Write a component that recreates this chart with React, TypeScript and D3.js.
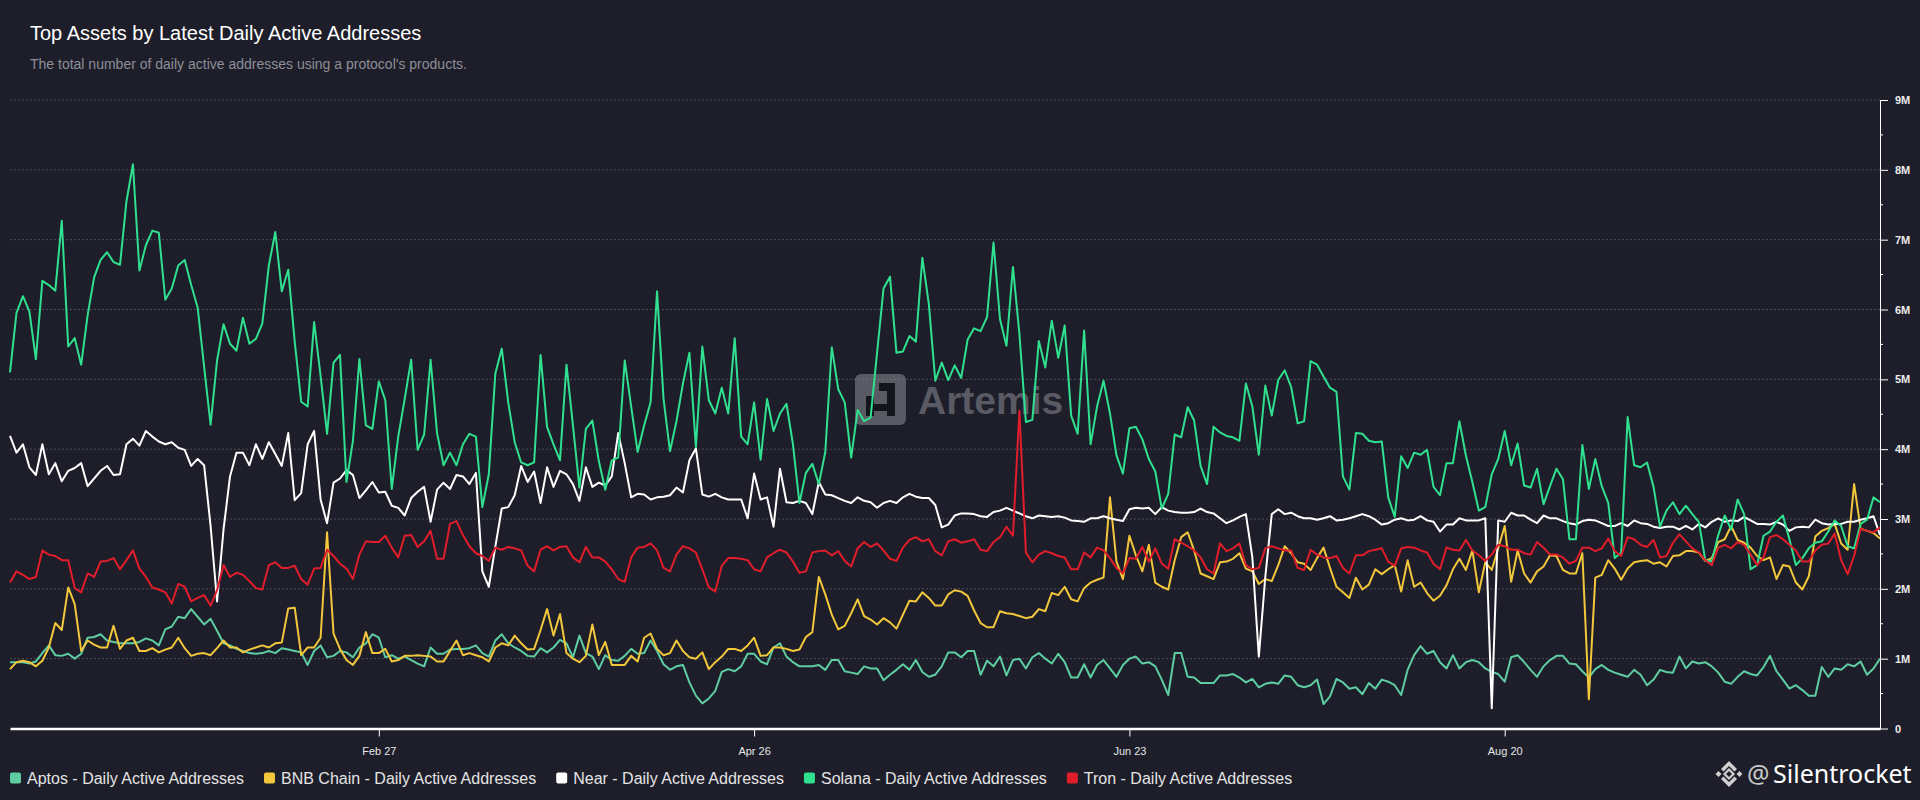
import { useEffect, useRef } from "react";
import * as d3 from "d3";

const WIDTH = 1920;
const HEIGHT = 800;
const PLOT = { left: 10, right: 1880, top: 100, bottom: 728.5 };

const TITLE = "Top Assets by Latest Daily Active Addresses";
const SUBTITLE = "The total number of daily active addresses using a protocol's products.";

// first day of the series, one value per day after it
const START_DATE = "2023-01-01";
const X_TICKS = ["2023-02-27", "2023-04-26", "2023-06-23", "2023-08-20"];
const Y_TICKS = [0, 1, 2, 3, 4, 5, 6, 7, 8, 9];
const Y_MINOR = [0.5, 1.5, 2.5, 3.5, 4.5, 5.5, 6.5, 7.5, 8.5];

// daily active addresses, millions
const aptos = [
  0.95, 0.95, 0.95, 0.93, 0.96, 1.08, 1.19, 1.05, 1.04, 1.07,
  1.0, 1.07, 1.3, 1.31, 1.35, 1.26, 1.24, 1.22, 1.22, 1.22,
  1.24, 1.29, 1.26, 1.19, 1.42, 1.46, 1.6, 1.58, 1.71, 1.6,
  1.49, 1.57, 1.4, 1.22, 1.19, 1.14, 1.11, 1.08, 1.07, 1.08,
  1.11, 1.08, 1.15, 1.13, 1.11, 1.09, 0.91, 1.11, 1.19, 1.02,
  1.04, 1.11, 1.09, 1.02, 1.16, 1.22, 1.35, 1.3, 1.02, 1.05,
  1.0, 1.03, 0.98, 0.93, 0.89, 1.16, 1.07, 1.07, 1.13, 1.14,
  1.14, 1.15, 1.19, 1.08, 1.03, 1.26, 1.35, 1.22, 1.16, 1.11,
  1.04, 1.03, 1.15, 1.09, 1.16, 1.27, 1.22, 1.02, 1.33, 1.08,
  1.03, 0.85, 1.05, 0.98, 0.97, 1.04, 1.14, 1.07, 1.08, 1.26,
  1.11, 0.92, 0.84, 0.89, 0.91, 0.66, 0.47, 0.36, 0.43, 0.54,
  0.81, 0.85, 0.82, 0.89, 1.07, 1.07, 0.96, 0.92, 1.16, 1.22,
  1.03, 0.95, 0.89, 0.89, 0.89, 0.91, 0.84, 0.98, 0.98, 0.82,
  0.8, 0.78, 0.89, 0.86, 0.86, 0.69, 0.77, 0.84, 0.92, 0.84,
  0.98, 0.81, 0.74, 0.77, 0.89, 1.09, 1.09, 1.02, 1.11, 1.11,
  0.77, 0.97, 0.89, 1.03, 0.76, 0.98, 1.0, 0.86, 1.02, 1.08,
  1.0, 0.93, 1.07, 0.95, 0.73, 0.73, 0.92, 0.73, 0.91, 0.98,
  0.86, 0.74, 0.91, 1.0, 1.03, 0.93, 0.95, 0.89, 0.7, 0.48,
  1.08, 1.08, 0.74, 0.73, 0.65, 0.65, 0.65, 0.76, 0.76, 0.78,
  0.73, 0.66, 0.71, 0.59, 0.64, 0.66, 0.64, 0.76, 0.74, 0.62,
  0.59, 0.62, 0.7, 0.35, 0.46, 0.71, 0.66, 0.57, 0.59, 0.49,
  0.65, 0.57, 0.7, 0.67, 0.62, 0.48, 0.84, 1.05, 1.18, 1.07,
  1.11, 0.95, 0.86, 1.05, 0.86, 0.95, 0.98, 0.95, 0.86, 0.81,
  0.78, 0.67, 1.02, 1.05, 0.95, 0.84, 0.74, 0.89, 0.98, 1.04,
  1.04, 0.93, 0.92, 0.82, 0.73, 0.85, 0.91, 0.84, 0.8, 0.77,
  0.74, 0.84, 0.77, 0.62, 0.7, 0.84, 0.81, 0.8, 1.03, 0.86,
  0.96, 0.93, 0.95, 0.89, 0.8, 0.67, 0.64, 0.74, 0.82, 0.78,
  0.76, 0.88, 1.04, 0.82, 0.7, 0.57, 0.62, 0.55, 0.47, 0.47,
  0.88, 0.74, 0.86, 0.84, 0.92, 0.89, 0.96, 0.77, 0.86, 1.0,
];

const bnbChain = [
  0.85, 0.95, 0.97, 0.95, 0.89, 0.97, 1.16, 1.51, 1.41, 2.02,
  1.78, 1.11, 1.26, 1.2, 1.16, 1.16, 1.47, 1.14, 1.26, 1.3,
  1.11, 1.11, 1.15, 1.09, 1.13, 1.16, 1.3, 1.15, 1.04, 1.07,
  1.08, 1.05, 1.15, 1.26, 1.16, 1.16, 1.09, 1.13, 1.16, 1.19,
  1.16, 1.22, 1.23, 1.72, 1.73, 1.05, 1.16, 1.16, 1.3, 2.81,
  1.36, 1.14, 0.98, 0.91, 1.04, 1.38, 1.08, 1.08, 1.14, 0.96,
  0.98, 1.04, 1.04, 1.05, 1.04, 1.03, 0.96, 0.96, 1.11, 1.26,
  1.05, 1.08, 1.05, 1.02, 0.96, 1.16, 1.22, 1.19, 1.33, 1.22,
  1.13, 1.14, 1.41, 1.71, 1.33, 1.64, 1.08, 1.0, 0.95, 1.04,
  1.49, 1.05, 1.24, 0.91, 0.91, 0.91, 1.04, 0.96, 1.3, 1.36,
  1.14, 1.05, 1.08, 1.26, 1.11, 1.02, 1.0, 1.09, 0.85, 0.95,
  1.03, 1.14, 1.14, 1.11, 1.19, 1.3, 1.04, 1.05, 1.16, 1.16,
  1.14, 1.11, 1.13, 1.31, 1.38, 2.17, 1.92, 1.63, 1.42, 1.47,
  1.65, 1.85, 1.61, 1.56, 1.49, 1.58, 1.52, 1.43, 1.63, 1.83,
  1.82, 1.95, 1.87, 1.76, 1.76, 1.92, 1.98, 1.96, 1.9, 1.69,
  1.51, 1.45, 1.45, 1.68, 1.65, 1.64, 1.61, 1.58, 1.6, 1.71,
  1.68, 1.94, 1.91, 2.03, 1.85, 1.82, 2.01, 2.09, 2.13, 2.16,
  3.31, 2.39, 2.14, 2.76, 2.48, 2.25, 2.63, 2.09, 2.03, 1.99,
  2.41, 2.74, 2.81, 2.55, 2.22, 2.18, 2.14, 2.38, 2.39, 2.43,
  2.51, 2.29, 2.25, 2.07, 2.14, 2.11, 2.34, 2.61, 2.51, 2.38,
  2.36, 2.27, 2.44, 2.59, 2.3, 2.03, 1.95, 1.87, 2.16, 1.99,
  2.06, 2.28, 2.21, 2.28, 2.34, 1.96, 2.41, 2.03, 2.09, 1.94,
  1.83, 1.9, 2.05, 2.28, 2.43, 2.27, 2.55, 1.95, 2.38, 2.27,
  2.58, 2.9, 2.1, 2.55, 2.22, 2.09, 2.25, 2.32, 2.48, 2.47,
  2.27, 2.22, 2.22, 2.51, 0.42, 2.16, 2.2, 2.41, 2.29, 2.13,
  2.29, 2.38, 2.4, 2.41, 2.36, 2.38, 2.32, 2.47, 2.48, 2.54,
  2.54, 2.52, 2.4, 2.44, 2.67, 2.71, 2.9, 2.7, 2.66, 2.59,
  2.47, 2.41, 2.45, 2.14, 2.34, 2.32, 2.09, 1.99, 2.18, 2.75,
  2.83, 2.87, 2.93, 2.65, 2.56, 3.5, 2.86, 2.83, 2.8, 2.72,
];

const near = [
  4.19, 3.95, 4.07, 3.74, 3.63, 4.07, 3.64, 3.8, 3.54, 3.69,
  3.73, 3.8, 3.47, 3.58, 3.69, 3.76, 3.63, 3.64, 4.07, 4.15,
  4.05, 4.26, 4.18, 4.11, 4.07, 4.1, 4.02, 3.99, 3.76, 3.86,
  3.77, 2.9, 1.82, 2.85, 3.61, 3.95, 3.95, 3.77, 4.07, 3.86,
  4.1, 3.93, 3.76, 4.23, 3.27, 3.37, 4.07, 4.26, 3.28, 2.94,
  3.52, 3.58, 3.7, 3.63, 3.3, 3.41, 3.53, 3.38, 3.39, 3.19,
  3.16, 3.05, 3.3, 3.39, 3.46, 2.96, 3.42, 3.52, 3.43, 3.63,
  3.61, 3.5, 3.66, 2.25, 2.03, 2.6, 3.15, 3.17, 3.34, 3.76,
  3.53, 3.68, 3.23, 3.74, 3.46, 3.69, 3.64, 3.5, 3.26, 3.74,
  3.46, 3.52, 3.48, 3.61, 4.23, 3.8, 3.31, 3.36, 3.35, 3.28,
  3.31, 3.32, 3.34, 3.45, 3.38, 3.84, 4.01, 3.35, 3.32, 3.36,
  3.31, 3.28, 3.28, 3.28, 3.01, 3.65, 3.28, 3.31, 2.89, 3.72,
  3.24, 3.23, 3.26, 3.23, 3.07, 3.53, 3.35, 3.34, 3.3, 3.26,
  3.23, 3.31, 3.26, 3.24, 3.16, 3.23, 3.26, 3.23, 3.31, 3.36,
  3.32, 3.3, 3.3, 3.2, 2.88, 2.92, 3.05, 3.08, 3.08, 3.07,
  3.04, 3.03, 3.1, 3.12, 3.16, 3.12, 3.08, 3.04, 3.01, 3.05,
  3.04, 3.03, 3.04, 3.02, 2.98, 2.97, 2.96, 3.01, 3.01, 3.04,
  3.01, 2.99, 2.97, 3.14, 3.16, 3.15, 3.16, 3.07, 3.17, 3.12,
  3.1, 3.09, 3.09, 3.1, 3.15, 3.1, 3.08, 3.01, 2.94, 2.98,
  3.03, 3.07, 2.45, 1.03, 2.17, 3.07, 3.14, 3.07, 3.09, 3.04,
  3.01, 3.01, 2.99, 3.01, 3.04, 2.98, 2.99, 3.01, 3.04, 3.07,
  3.04, 2.99, 2.92, 2.94, 2.99, 3.01, 2.98, 2.99, 3.04, 2.98,
  2.96, 2.82, 2.92, 2.92, 3.01, 2.98, 2.98, 2.98, 3.01, 0.29,
  2.98, 2.96, 3.09, 3.05, 3.05, 2.99, 2.94, 3.05, 3.01, 3.01,
  2.97, 2.94, 2.92, 2.97, 2.99, 2.98, 2.94, 2.9, 2.9, 2.94,
  2.9, 2.98, 2.94, 2.93, 2.89, 2.87, 2.89, 2.89, 2.85, 2.9,
  2.85, 2.93, 2.88, 2.96, 3.01, 2.96, 2.98, 2.97, 3.03, 2.98,
  2.93, 2.93, 2.92, 2.96, 2.92, 2.83, 2.88, 2.89, 2.88, 2.99,
  2.94, 2.92, 2.93, 2.93, 2.96, 2.96, 2.99, 3.01, 3.04, 2.77,
];

const solana = [
  5.1, 5.95, 6.19, 5.97, 5.29, 6.41, 6.35, 6.27, 7.27, 5.47,
  5.59, 5.21, 5.92, 6.46, 6.71, 6.82, 6.68, 6.64, 7.55, 8.08,
  6.56, 6.92, 7.13, 7.1, 6.14, 6.3, 6.63, 6.71, 6.35, 6.03,
  5.18, 4.35, 5.27, 5.79, 5.51, 5.41, 5.88, 5.51, 5.58, 5.8,
  6.63, 7.11, 6.26, 6.57, 5.54, 4.68, 4.61, 5.82, 5.05, 4.22,
  5.24, 5.35, 3.53, 4.12, 5.29, 4.34, 4.29, 4.97, 4.7, 3.43,
  4.18, 4.72, 5.28, 3.99, 4.21, 5.28, 4.23, 3.77, 3.95, 3.77,
  4.07, 4.22, 4.18, 3.17, 3.64, 5.08, 5.44, 4.67, 4.1, 3.81,
  3.77, 3.81, 5.35, 4.32, 4.07, 3.84, 5.21, 4.34, 3.45, 4.29,
  4.41, 3.83, 3.42, 3.84, 3.88, 5.27, 4.61, 3.96, 4.34, 4.67,
  6.26, 4.72, 3.97, 4.4, 4.94, 5.38, 4.03, 5.47, 4.7, 4.51,
  4.88, 4.51, 5.59, 4.18, 4.07, 4.67, 3.85, 4.72, 4.26, 4.51,
  4.65, 4.07, 3.23, 3.66, 3.79, 3.5, 3.96, 5.46, 4.86, 4.67,
  3.88, 4.56, 4.4, 4.45, 5.38, 6.3, 6.47, 5.38, 5.4, 5.62,
  5.54, 6.74, 6.08, 4.98, 5.24, 4.99, 5.2, 5.02, 5.57, 5.73,
  5.69, 5.89, 6.96, 5.86, 5.48, 6.61, 5.65, 4.39, 4.42, 5.55,
  5.17, 5.84, 5.31, 5.77, 4.48, 4.22, 5.7, 4.07, 4.61, 4.98,
  4.51, 3.91, 3.65, 4.3, 4.32, 4.14, 3.86, 3.68, 3.15, 3.36,
  4.21, 4.17, 4.6, 4.41, 3.76, 3.5, 4.32, 4.24, 4.19, 4.17,
  4.12, 4.94, 4.61, 3.92, 4.91, 4.48, 4.99, 5.13, 4.89, 4.37,
  4.4, 5.26, 5.21, 5.04, 4.88, 4.82, 3.61, 3.42, 4.23, 4.22,
  4.12, 4.1, 4.11, 3.31, 3.03, 3.9, 3.73, 3.95, 3.92, 3.99,
  3.46, 3.34, 3.8, 3.8, 4.4, 3.91, 3.53, 3.12, 3.17, 3.64,
  3.86, 4.26, 3.77, 4.08, 3.48, 3.45, 3.72, 3.21, 3.47, 3.72,
  3.57, 2.71, 2.71, 4.06, 3.43, 3.86, 3.47, 3.23, 2.44, 2.52,
  4.46, 3.77, 3.74, 3.81, 3.46, 2.89, 3.12, 3.24, 3.07, 3.19,
  3.07, 2.96, 2.41, 2.39, 2.77, 3.05, 2.85, 3.28, 3.07, 2.28,
  2.34, 2.76, 2.82, 2.96, 3.05, 2.71, 2.34, 2.44, 2.58, 2.66,
  2.68, 2.82, 2.98, 2.9, 2.61, 2.58, 2.93, 2.99, 3.31, 3.24,
];

const tron = [
  2.09, 2.25, 2.2, 2.14, 2.17, 2.55, 2.49, 2.47, 2.41, 2.41,
  2.01, 1.95, 2.22, 2.17, 2.39, 2.4, 2.44, 2.28, 2.41, 2.55,
  2.29, 2.17, 2.02, 1.99, 1.95, 1.79, 2.07, 2.03, 1.82, 1.87,
  1.91, 1.76, 1.98, 2.34, 2.17, 2.23, 2.2, 2.11, 2.01, 1.99,
  2.34, 2.38, 2.3, 2.3, 2.33, 2.14, 2.06, 2.29, 2.3, 2.56,
  2.47, 2.36, 2.29, 2.14, 2.49, 2.68, 2.67, 2.67, 2.76, 2.59,
  2.45, 2.76, 2.77, 2.6, 2.68, 2.83, 2.43, 2.43, 2.93, 2.97,
  2.77, 2.61, 2.51, 2.47, 2.4, 2.59, 2.56, 2.6, 2.58, 2.55,
  2.33, 2.25, 2.56, 2.61, 2.55, 2.6, 2.61, 2.45, 2.38, 2.6,
  2.45, 2.45, 2.39, 2.28, 2.14, 2.1, 2.45, 2.59, 2.6, 2.65,
  2.55, 2.3, 2.25, 2.49, 2.61, 2.58, 2.52, 2.28, 2.02, 1.96,
  2.33, 2.44, 2.44, 2.43, 2.41, 2.28, 2.25, 2.45, 2.51, 2.56,
  2.52, 2.39, 2.23, 2.25, 2.52, 2.54, 2.55, 2.48, 2.54, 2.4,
  2.32, 2.58, 2.67, 2.6, 2.65, 2.55, 2.43, 2.4, 2.59, 2.7,
  2.74, 2.68, 2.71, 2.54, 2.48, 2.68, 2.71, 2.66, 2.68, 2.71,
  2.56, 2.54, 2.67, 2.74, 2.89, 2.76, 4.55, 2.52, 2.38, 2.49,
  2.54, 2.51, 2.47, 2.45, 2.28, 2.28, 2.52, 2.45, 2.59, 2.55,
  2.44, 2.3, 2.22, 2.44, 2.43, 2.6, 2.39, 2.58, 2.36, 2.29,
  2.71, 2.66, 2.61, 2.55, 2.45, 2.28, 2.22, 2.65, 2.54, 2.58,
  2.65, 2.34, 2.28, 2.3, 2.58, 2.61, 2.58, 2.55, 2.55, 2.3,
  2.27, 2.56, 2.49, 2.45, 2.44, 2.47, 2.3, 2.22, 2.48, 2.48,
  2.54, 2.56, 2.58, 2.39, 2.33, 2.58, 2.6, 2.59, 2.55, 2.52,
  2.36, 2.28, 2.59, 2.56, 2.55, 2.7, 2.55, 2.48, 2.4, 2.49,
  2.63, 2.61, 2.56, 2.56, 2.51, 2.49, 2.67, 2.59, 2.49, 2.49,
  2.45, 2.36, 2.4, 2.59, 2.59, 2.54, 2.58, 2.72, 2.54, 2.47,
  2.74, 2.71, 2.63, 2.6, 2.7, 2.45, 2.47, 2.66, 2.78, 2.68,
  2.58, 2.52, 2.41, 2.34, 2.59, 2.63, 2.58, 2.67, 2.63, 2.49,
  2.34, 2.45, 2.74, 2.77, 2.71, 2.63, 2.55, 2.39, 2.39, 2.55,
  2.63, 2.65, 2.79, 2.41, 2.21, 2.47, 2.86, 2.83, 2.81, 2.88,
];

const SERIES = [
  { name: "Aptos - Daily Active Addresses", values: aptos, color: "#5ecda2" },
  { name: "BNB Chain - Daily Active Addresses", values: bnbChain, color: "#f2c73c" },
  { name: "Near - Daily Active Addresses", values: near, color: "#ffffff" },
  { name: "Solana - Daily Active Addresses", values: solana, color: "#30e08f" },
  { name: "Tron - Daily Active Addresses", values: tron, color: "#e11d2b" },
];

const BG = "#1d1e29";
const FONT = "'Liberation Sans', Arial, Helvetica, sans-serif";

export default function App() {
  const svgRef = useRef<SVGSVGElement>(null);

  useEffect(() => {
    document.body.style.margin = "0";
    document.body.style.background = BG;
    if (!svgRef.current) return;

    const svg = d3.select(svgRef.current);
    svg.selectAll("*").remove();

    const start = new Date(START_DATE + "T00:00:00Z");
    const days = solana.map((_, i) => d3.utcDay.offset(start, i));

    const x = d3
      .scaleUtc()
      .domain([days[0], days[days.length - 1]])
      .range([PLOT.left, PLOT.right]);
    const y = d3.scaleLinear().domain([0, 9]).range([PLOT.bottom, PLOT.top]);

    svg.append("rect").attr("width", WIDTH).attr("height", HEIGHT).attr("fill", BG);

    // Header
    svg
      .append("text")
      .attr("x", 30)
      .attr("y", 40)
      .attr("fill", "#ffffff")
      .attr("font-family", FONT)
      .attr("font-size", 20)
      .text(TITLE);
    svg
      .append("text")
      .attr("x", 30)
      .attr("y", 68.5)
      .attr("fill", "#8d8e97")
      .attr("font-family", FONT)
      .attr("font-size", 14)
      .text(SUBTITLE);

    // Grid lines
    svg
      .append("g")
      .selectAll("line")
      .data(Y_TICKS.filter((t) => t > 0))
      .join("line")
      .attr("x1", PLOT.left)
      .attr("x2", PLOT.right)
      .attr("y1", (d) => y(d))
      .attr("y2", (d) => y(d))
      .attr("stroke", "#4c4d58")
      .attr("stroke-dasharray", "2,2")
      .attr("stroke-width", 1);

    // Artemis watermark
    const wm = svg.append("g").attr("opacity", 0.55);
    wm.append("rect")
      .attr("x", 855)
      .attr("y", 374)
      .attr("width", 51)
      .attr("height", 51)
      .attr("rx", 6)
      .attr("fill", "#8a8b94");
    const glyph = wm.append("g").attr("fill", "#0c0d12");
    glyph.append("rect").attr("x", 866).attr("y", 396).attr("width", 8).attr("height", 20);
    glyph.append("rect").attr("x", 879).attr("y", 383).attr("width", 16).attr("height", 8);
    glyph.append("rect").attr("x", 887).attr("y", 383).attr("width", 8).attr("height", 33);
    glyph.append("rect").attr("x", 866).attr("y", 404).attr("width", 29).attr("height", 7);
    wm.append("text")
      .attr("x", 918)
      .attr("y", 414)
      .attr("fill", "#8a8b94")
      .attr("font-family", FONT)
      .attr("font-weight", "bold")
      .attr("font-size", 39)
      .text("Artemis");

    // Lines
    const line = d3
      .line<number>()
      .x((_, i) => x(days[i]))
      .y((d) => y(d));

    svg
      .append("g")
      .selectAll("path")
      .data(SERIES)
      .join("path")
      .attr("d", (s) => line(s.values))
      .attr("fill", "none")
      .attr("stroke", (s) => s.color)
      .attr("stroke-width", 2)
      .attr("stroke-linejoin", "round");

    // Bottom axis
    const xAxis = svg
      .append("g")
      .attr("transform", `translate(0,${PLOT.bottom})`)
      .call(
        d3
          .axisBottom(x)
          .tickValues(X_TICKS.map((d) => new Date(d + "T00:00:00Z")))
          .tickFormat((d) => d3.utcFormat("%b %d")(d as Date))
          .tickSize(8)
          .tickSizeOuter(0)
          .tickPadding(11),
      );
    xAxis.select(".domain").attr("stroke", "#ffffff").attr("stroke-width", 2.5);
    xAxis.selectAll("line").attr("stroke", "#ffffff");
    xAxis
      .selectAll("text")
      .attr("fill", "#e6e6e6")
      .attr("font-family", FONT)
      .attr("font-size", 11);

    // Right axis
    const yAxis = svg
      .append("g")
      .attr("transform", `translate(${PLOT.right},0)`)
      .call(
        d3
          .axisRight(y)
          .tickValues(Y_TICKS)
          .tickFormat((d) => (d === 0 ? "0" : `${d}M`))
          .tickSize(8)
          .tickSizeOuter(0)
          .tickPadding(7),
      );
    yAxis.select(".domain").attr("stroke", "#ffffff");
    yAxis.selectAll("line").attr("stroke", "#ffffff");
    yAxis
      .selectAll("text")
      .attr("fill", "#ececec")
      .attr("font-family", FONT)
      .attr("font-weight", "bold")
      .attr("font-size", 11);

    svg
      .append("g")
      .selectAll("line")
      .data(Y_MINOR)
      .join("line")
      .attr("x1", PLOT.right)
      .attr("x2", PLOT.right + 3)
      .attr("y1", (d) => y(d))
      .attr("y2", (d) => y(d))
      .attr("stroke", "#ffffff");

    // Legend
    const legend = svg.append("g").attr("transform", "translate(10,778)");
    let lx = 0;
    SERIES.forEach((s) => {
      const item = legend.append("g").attr("transform", `translate(${lx},0)`);
      item
        .append("rect")
        .attr("x", 0)
        .attr("y", -5.5)
        .attr("width", 11)
        .attr("height", 11)
        .attr("rx", 2)
        .attr("fill", s.color);
      const t = item
        .append("text")
        .attr("x", 17)
        .attr("y", 5.5)
        .attr("fill", "#e4e4e4")
        .attr("font-family", FONT)
        .attr("font-size", 16)
        .text(s.name);
      const w = (t.node() as SVGTextElement).getComputedTextLength();
      lx += 17 + w + 20;
    });

    // Signature
    const sig = svg.append("g").attr("transform", "translate(1729,774)").attr("fill", "#cfcfcf");
    const polys = [
      [[0, -13], [8, -5], [5.5, -2.5], [0, -8], [-5.5, -2.5], [-8, -5]],
      [[0, 13], [8, 5], [5.5, 2.5], [0, 8], [-5.5, 2.5], [-8, 5]],
      [[-13.5, 0], [-10.5, -3], [-7.5, 0], [-10.5, 3]],
      [[13.5, 0], [10.5, -3], [7.5, 0], [10.5, 3]],
    ];
    polys.forEach((p) => sig.append("polygon").attr("points", p.map((q) => q.join(",")).join(" ")));
    sig
      .append("polygon")
      .attr("points", "0,-4.5 4.5,0 0,4.5 -4.5,0")
      .attr("fill", "none")
      .attr("stroke", "#cfcfcf")
      .attr("stroke-width", 2.2);
    svg
      .append("text")
      .attr("x", 1747)
      .attr("y", 783)
      .attr("fill", "#c9c9c9")
      .attr("font-family", "'Noto Sans', 'Open Sans', sans-serif")
      .attr("font-size", 25)
      .text("@");
    svg
      .append("text")
      .attr("x", 1773)
      .attr("y", 783)
      .attr("fill", "#ffffff")
      .attr("font-family", "'Noto Sans', 'Open Sans', sans-serif")
      .attr("font-size", 25)
      .text("Silentrocket");
  }, []);

  return <svg ref={svgRef} width={WIDTH} height={HEIGHT} style={{ display: "block" }} />;
}
